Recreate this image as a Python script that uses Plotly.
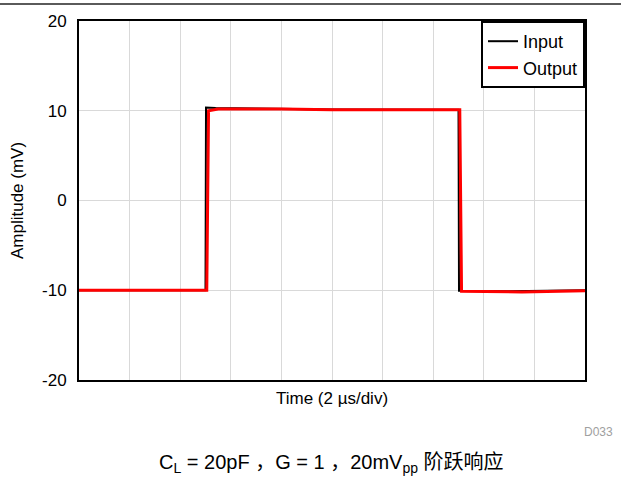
import plotly.graph_objects as go

# Time in µs (2 µs/div, 10 divisions)
input_t = [0, 5.0, 5.02, 5.4, 7.0, 10.0, 15.0, 15.02, 17.0, 20.0]
input_v = [-10.0, -10.0, 10.35, 10.3, 10.25, 10.15, 10.1, -10.05, -10.1, -10.0]

output_t = [0, 5.05, 5.12, 5.5, 8.0, 10.0, 15.05, 15.12, 17.5, 20.0]
output_v = [-10.0, -10.0, 10.0, 10.2, 10.2, 10.1, 10.1, -10.1, -10.2, -10.05]

y_ticks = [-20, -10, 0, 10, 20]
y_tick_text = ["-20", "-10", "0", "10", "20"]

L, R, T, B = 79, 585, 21, 380
W, H = 621, 477
pw, ph = R - L, B - T

fig = go.Figure()
fig.add_trace(go.Scatter(x=input_t, y=input_v, mode="lines", name="Input",
                         line=dict(color="black", width=2)))
fig.add_trace(go.Scatter(x=output_t, y=output_v, mode="lines", name="Output",
                         line=dict(color="#ff0000", width=3)))

def px_x(p):
    return (p - L) / pw

def px_y(p):
    return (B - p) / ph

fig.update_layout(
    width=W, height=H,
    margin=dict(l=L, r=W - R, t=T, b=H - B, pad=0),
    paper_bgcolor="white", plot_bgcolor="white",
    font=dict(family="Liberation Sans, Arial, sans-serif", size=17, color="black"),
    showlegend=True,
    legend=dict(x=1, y=1, xanchor="right", yanchor="top",
                bgcolor="white", bordercolor="black", borderwidth=2,
                font=dict(size=18), tracegroupgap=0,
                traceorder="normal"),
    xaxis=dict(range=[0, 20], dtick=2, showticklabels=False, ticks="",
               showgrid=True, gridcolor="#d9d9d9", gridwidth=1,
               showline=True, linecolor="black", linewidth=2, mirror=True,
               zeroline=False, automargin=False,
               title=dict(text="Time (2 µs/div)", font=dict(size=17), standoff=11)),
    yaxis=dict(range=[-20, 20], tickvals=y_ticks, ticktext=y_tick_text, ticks="",
               ticklabelstandoff=7,
               showgrid=True, gridcolor="#d9d9d9", gridwidth=1,
               showline=True, linecolor="black", linewidth=2, mirror=True,
               zeroline=False, tickfont=dict(size=17), automargin=False,
               title=dict(text="Amplitude (mV)", font=dict(size=17), standoff=14)),
    shapes=[dict(type="line", xref="paper", yref="paper", layer="above",
                 x0=px_x(0), x1=px_x(W), y0=px_y(4), y1=px_y(4),
                 line=dict(color="#5a5a5a", width=2))],
    annotations=[
        dict(text="D033", xref="paper", yref="paper", x=px_x(615), y=px_y(432),
             xanchor="right", yanchor="middle", showarrow=False,
             font=dict(size=12, color="#a0a0a0")),
        dict(text="C<sub>L</sub> = 20pF ，G = 1 ，20mV<sub>pp</sub> 阶跃响应",
             xref="paper", yref="paper", x=px_x(331), y=px_y(463),
             xanchor="center", yanchor="middle", showarrow=False,
             font=dict(size=20, color="black",
                       family="Liberation Sans, Noto Sans CJK SC, sans-serif")),
    ],
)

fig.write_html("out.html", config={"displayModeBar": False},
               post_script="document.body.style.margin='0';")
